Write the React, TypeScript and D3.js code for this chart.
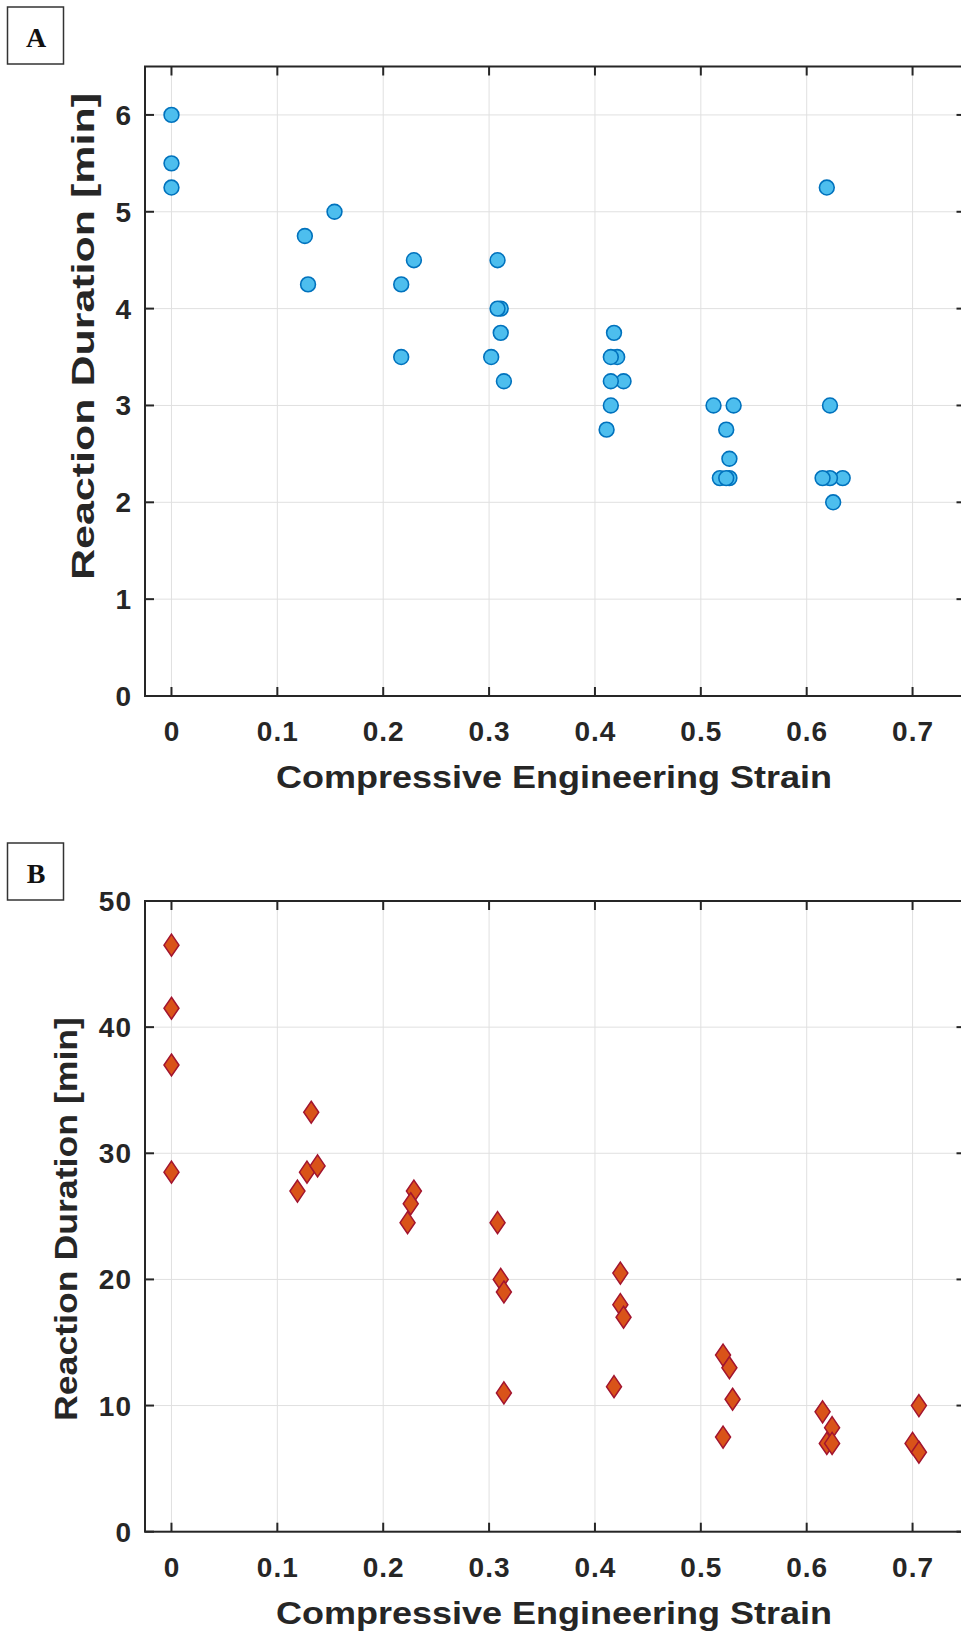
import React from 'react';
import * as d3 from 'd3';

// panel A: circles
const strainA = [
  0, 0, 0,
  0.126, 0.129, 0.154,
  0.217, 0.217, 0.229,
  0.308, 0.311, 0.308, 0.311, 0.302, 0.314,
  0.418, 0.421, 0.415, 0.427, 0.415, 0.415, 0.411,
  0.512, 0.531, 0.524, 0.527, 0.518, 0.527, 0.524,
  0.619, 0.622, 0.634, 0.622, 0.615, 0.625,
];
const durationA = [
  6, 5.5, 5.25,
  4.75, 4.25, 5,
  4.25, 3.5, 4.5,
  4.5, 4, 4, 3.75, 3.5, 3.25,
  3.75, 3.5, 3.5, 3.25, 3.25, 3, 2.75,
  3, 3, 2.75, 2.45, 2.25, 2.25, 2.25,
  5.25, 3, 2.25, 2.25, 2.25, 2,
];

// panel B: diamonds
const strainB = [
  0, 0, 0, 0,
  0.132, 0.128, 0.138, 0.119,
  0.229, 0.226, 0.223,
  0.308, 0.311, 0.314, 0.314,
  0.424, 0.424, 0.427, 0.418,
  0.521, 0.527, 0.53, 0.521,
  0.615, 0.624, 0.619, 0.624,
  0.706, 0.7, 0.706,
];
const durationB = [
  46.5, 41.5, 37, 28.5,
  33.25, 28.5, 29, 27,
  27, 26, 24.5,
  24.5, 20, 19, 11,
  20.5, 18, 17, 11.5,
  14, 13, 10.5, 7.5,
  9.5, 8.25, 7, 7,
  10, 7, 6.3,
];

const xTicks = [0, 0.1, 0.2, 0.3, 0.4, 0.5, 0.6, 0.7];
const yTicksA = [0, 1, 2, 3, 4, 5, 6];
const yTicksB = [0, 10, 20, 30, 40, 50];

const xLabel = 'Compressive Engineering Strain';
const yLabel = 'Reaction Duration [min]';

const FONT = 'Liberation Sans, Arial, Helvetica, sans-serif';
const INK = '#262626';
const GRID = '#e0e0e0';

const LEFT = 145;
const RIGHT = 965.5;

type PanelProps = {
  letter: string;
  letterY: number;
  top: number;
  bottom: number;
  xs: number[];
  ys: number[];
  yMax: number;
  yTicks: number[];
  marker: 'circle' | 'diamond';
  yLabelX: number;
  yLabelY: number;
  yLabelLen: number;
};

const Panel = ({ letter, letterY, top, bottom, xs, ys, yMax, yTicks, marker, yLabelX, yLabelY, yLabelLen }: PanelProps) => {
  const x = d3.scaleLinear().domain([-0.025, 0.75]).range([LEFT, RIGHT]);
  const y = d3.scaleLinear().domain([0, yMax]).range([bottom, top]);
  const tick = 9;
  const diamond = 'M0,-11L7.5,0L0,11L-7.5,0Z';

  return (
    <g>
      {/* panel letter box */}
      <rect x={7.5} y={letterY} width={56} height={57} fill="white" stroke="#333" strokeWidth={1.5} />
      <text x={36} y={letterY + 40} textAnchor="middle" fontFamily="Liberation Serif, Times New Roman, serif"
        fontWeight="bold" fontSize={28} fill="#111">{letter}</text>

      {/* grid */}
      {xTicks.map(t => (
        <line key={'gx' + t} x1={x(t)} x2={x(t)} y1={top} y2={bottom} stroke={GRID} strokeWidth={1} />
      ))}
      {yTicks.map(t => (
        <line key={'gy' + t} x1={LEFT} x2={RIGHT} y1={y(t)} y2={y(t)} stroke={GRID} strokeWidth={1} />
      ))}

      {/* markers */}
      {xs.map((v, i) => marker === 'circle' ? (
        <circle key={i} cx={x(v)} cy={y(ys[i])} r={7.4} fill="#4DBEEE" stroke="#0072BD" strokeWidth={1.6} />
      ) : (
        <path key={i} d={diamond} transform={`translate(${x(v)},${y(ys[i])})`} fill="#D95319" stroke="#A2142F" strokeWidth={1.5} />
      ))}

      {/* axes box and ticks */}
      <rect x={LEFT} y={top} width={RIGHT - LEFT} height={bottom - top} fill="none" stroke={INK} strokeWidth={2} />
      {xTicks.map(t => (
        <g key={'tx' + t}>
          <line x1={x(t)} x2={x(t)} y1={bottom} y2={bottom - tick} stroke={INK} strokeWidth={2} />
          <line x1={x(t)} x2={x(t)} y1={top} y2={top + tick} stroke={INK} strokeWidth={2} />
          <text x={x(t) + 0.5} y={bottom + 45} textAnchor="middle" fontFamily={FONT} fontWeight="bold"
            fontSize={28} letterSpacing={1} fill={INK}>{t === 0 ? '0' : String(t)}</text>
        </g>
      ))}
      {yTicks.map(t => (
        <g key={'ty' + t}>
          <line x1={LEFT} x2={LEFT + tick} y1={y(t)} y2={y(t)} stroke={INK} strokeWidth={2} />
          <line x1={RIGHT} x2={RIGHT - tick} y1={y(t)} y2={y(t)} stroke={INK} strokeWidth={2} />
          <text x={LEFT - 13} y={y(t) + 10} textAnchor="end" fontFamily={FONT} fontWeight="bold"
            fontSize={28} letterSpacing={1} fill={INK}>{t}</text>
        </g>
      ))}

      {/* axis labels */}
      <text x={554} y={bottom + 92} textAnchor="middle" fontFamily={FONT} fontWeight="bold" fontSize={31}
        textLength={556} lengthAdjust="spacingAndGlyphs" fill={INK}>{xLabel}</text>
      <text transform={`translate(${yLabelX},${yLabelY}) rotate(-90)`} textAnchor="middle" fontFamily={FONT}
        fontWeight="bold" fontSize={31} textLength={yLabelLen} lengthAdjust="spacingAndGlyphs" fill={INK}>{yLabel}</text>
    </g>
  );
};

export default function App() {
  return (
    <svg width={961} height={1636} style={{ position: 'absolute', left: 0, top: 0, background: 'white' }}>
      <Panel letter="A" letterY={7} top={66.5} bottom={696} xs={strainA} ys={durationA} yMax={6.5}
        yTicks={yTicksA} marker="circle" yLabelX={94} yLabelY={336.5} yLabelLen={487} />
      <Panel letter="B" letterY={843} top={901} bottom={1531.7} xs={strainB} ys={durationB} yMax={50}
        yTicks={yTicksB} marker="diamond" yLabelX={77} yLabelY={1219} yLabelLen={404} />
    </svg>
  );
}
